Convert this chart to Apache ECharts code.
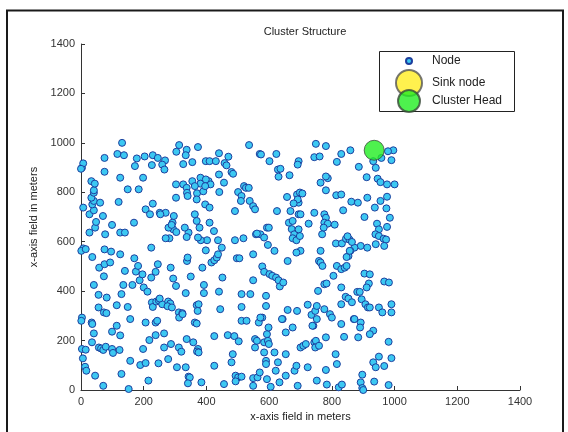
<!DOCTYPE html>
<html>
<head>
<meta charset="utf-8">
<script src="https://cdn.jsdelivr.net/npm/echarts@6/dist/echarts.min.js"></script>
<style>
  html, body { margin: 0; padding: 0; background: #fff; }
  #chart { width: 568px; height: 432px; }
</style>
</head>
<body>
<div id="chart"></div>
<script>
// node positions, [x, y] in meters
const nodes = [
  [131,1000],[313,991],[373,983],[536,991],[749,996],[781,987],[996,970],[979,966],[859,970],
  [3,899],[7,917],[0,895],[75,939],[116,955],[137,950],[178,937],[203,945],[229,950],[245,939],
  [268,929],[259,912],[266,892],[226,910],[172,906],[304,964],[337,972],[334,950],[326,914],
  [355,922],[398,926],[410,926],[430,926],[440,958],[470,944],[458,918],[464,909],[440,872],
  [480,882],[485,875],[570,955],[574,953],[601,926],[623,955],[628,892],[636,895],[630,863],
  [665,869],[694,926],[691,912],[744,942],[761,945],[816,923],[830,955],[886,903],[940,899],
  [958,939],[932,926],[990,930],[911,861],[946,855],[955,841],[976,832],[1000,832],[976,782],
  [955,765],[913,778],[904,700],[937,738],[974,735],[985,697],[976,660],[944,673],[950,650],
  [939,630],[950,623],[965,612],[973,609],[967,583],[940,590],[892,583],[913,576],[872,576],
  [7,573],[1,563],[15,570],[7,738],[27,711],[41,727],[36,751],[41,765],[61,758],[33,778],
  [41,798],[41,808],[33,845],[44,835],[45,657],[48,680],[70,704],[75,883],[36,538],[27,637],
  [77,630],[125,859],[149,812],[184,812],[198,859],[120,761],[169,677],[125,637],[140,637],
  [99,668],[229,754],[206,731],[220,711],[251,717],[270,717],[224,576],[282,614],[294,650],
  [292,677],[279,657],[303,778],[303,832],[326,832],[337,818],[355,845],[338,798],[340,785],
  [381,859],[381,835],[363,825],[370,796],[369,771],[390,804],[396,751],[410,738],[407,845],
  [413,832],[398,852],[396,825],[441,801],[456,839],[491,724],[501,801],[512,785],[510,765],
  [520,825],[526,818],[535,818],[538,765],[549,744],[555,731],[558,630],[572,630],[584,617],
  [593,657],[599,657],[596,587],[617,563],[625,724],[657,781],[668,724],[663,677],[675,684],
  [689,643],[694,711],[700,711],[689,791],[698,799],[706,795],[694,758],[691,771],[678,755],
  [672,651],[680,630],[675,614],[687,606],[698,623],[694,650],[700,563],[687,556],[726,673],
  [744,717],[776,711],[781,697],[776,677],[787,673],[774,657],[769,630],[787,857],[781,864],
  [764,839],[781,808],[814,788],[830,791],[836,727],[809,669],[813,593],[832,593],[845,612],
  [856,609],[864,599],[850,622],[862,762],[883,758],[859,563],[853,542],
  [58,495],[75,509],[93,516],[73,460],[41,425],[56,385],[82,374],[56,334],[73,314],[81,311],
  [114,343],[129,388],[135,425],[140,482],[125,549],[170,533],[175,479],[182,502],[187,444],
  [196,468],[200,415],[164,425],[149,336],[212,398],[224,455],[238,478],[245,509],[226,354],
  [229,336],[240,358],[248,363],[259,347],[278,358],[285,350],[276,339],[290,334],[251,370],
  [286,495],[294,451],[303,421],[312,314],[323,311],[313,293],[334,392],[338,522],[340,536],
  [350,459],[369,343],[375,347],[372,320],[363,273],[369,269],[392,425],[392,392],[398,565],
  [387,495],[416,516],[425,525],[433,536],[437,549],[440,398],[444,327],[451,455],[449,576],
  [437,606],[424,643],[410,677],[402,606],[382,606],[373,617],[378,657],[369,684],[363,711],
  [343,637],[337,619],[331,657],[296,704],[289,668],[304,639],[270,614],[253,711],[491,606],
  [497,533],[505,533],[518,614],[512,388],[512,336],[540,388],[549,444],[549,549],[561,633],
  [578,500],[584,478],[590,381],[601,469],[590,340],[578,293],[610,462],[622,455],[630,444],
  [634,419],[645,435],[659,522],[659,324],[643,287],[689,320],[723,345],[735,304],[741,260],
  [747,320],[752,340],[752,287],[756,401],[759,522],[764,516],[764,563],[770,502],[776,428],
  [783,431],[776,327],[794,307],[800,293],[781,213],[805,462],[816,502],[830,489],[841,495],
  [847,502],[847,538],[857,563],[830,415],[844,377],[830,347],[853,370],[864,355],[870,287],
  [881,397],[889,397],[895,367],[892,273],[907,347],[915,334],[921,334],[904,471],[921,468],
  [918,431],[911,415],[932,240],[921,226],[950,334],[961,314],[967,439],[982,435],[990,347],
  [990,314],[981,195],[990,129],[950,135],[932,112],[940,92],[967,97],[897,62],[935,34],
  [892,31],[897,8],[900,0],[981,20],
  [3,293],[1,280],[34,273],[36,267],[41,229],[35,193],[3,166],[15,163],[6,128],[13,94],
  [17,78],[45,58],[57,172],[64,168],[71,162],[79,175],[71,17],[99,166],[102,150],[99,236],
  [114,260],[123,162],[125,221],[129,65],[157,287],[157,118],[152,4],[189,101],[198,166],
  [206,109],[206,273],[215,38],[218,202],[238,222],[238,273],[243,280],[247,108],[265,229],
  [265,172],[278,125],[287,186],[306,92],[312,172],[320,155],[324,307],[337,206],[334,92],
  [343,54],[347,51],[341,27],[358,193],[373,166],[370,156],[375,152],[384,31],[425,98],
  [425,218],[456,24],[468,222],[480,112],[484,145],[489,218],[493,58],[501,51],[493,35],
  [503,197],[512,280],[528,280],[512,54],[549,48],[549,17],[555,172],[555,206],[561,199],
  [563,51],[570,71],[567,273],[572,293],[584,193],[584,152],[590,118],[590,105],[593,226],
  [598,253],[596,199],[599,186],[593,44],[605,13],[617,152],[621,78],[628,112],[633,31],
  [641,287],[653,58],[653,145],[653,233],[675,253],[681,78],[687,98],[691,17],[700,172],
  [709,179],[717,186],[723,92],[738,260],[744,193],[749,199],[747,172],[759,179],[752,38],
  [781,81],[784,22],[812,145],[816,105],[822,11],[830,267],[832,22],[839,215],[872,287],
  [884,213],[890,253],[75,569],[96,560]
];
const sinkNode = [];
const clusterHead = [[935, 970]];
const axisTicks = [0, 200, 400, 600, 800, 1000, 1200, 1400];

const chart = echarts.init(document.getElementById('chart'));
const font = 'Liberation Sans, Arial, sans-serif';

const axisCommon = {
  min: axisTicks[0],
  max: axisTicks[axisTicks.length - 1],
  interval: axisTicks[1] - axisTicks[0],
  nameLocation: 'middle',
  nameTextStyle: { fontFamily: font, fontSize: 11, color: '#222' },
  axisLine: { show: true, lineStyle: { color: '#333', width: 1 } },
  axisTick: { show: true, inside: true, length: 4, lineStyle: { color: '#333' } },
  axisLabel: { fontFamily: font, fontSize: 11, color: '#333', margin: 6, formatter: v => String(v) },
  splitLine: { show: false }
};

const legendCommon = {
  orient: 'vertical',
  padding: 0,
  selectedMode: false,
  icon: 'circle',
  textStyle: { fontFamily: font, fontSize: 12, color: '#222' }
};

chart.setOption({
  animation: false,
  backgroundColor: '#fff',
  title: {
    text: 'Cluster Structure',
    left: 300,
    top: 21,
    textAlign: 'center',
    textStyle: { fontFamily: font, fontSize: 11, fontWeight: 'normal', color: '#222' }
  },
  grid: { left: 81, right: 48, top: 44, bottom: 42 },
  xAxis: Object.assign({}, axisCommon, {
    type: 'value',
    name: 'x-axis field in meters',
    nameGap: 21
  }),
  yAxis: Object.assign({}, axisCommon, {
    type: 'value',
    name: 'x-axis field in meters',
    nameGap: 39
  }),
  legend: [
    Object.assign({}, legendCommon, {
      data: ['Node'], left: 405, top: 55, itemWidth: 6, itemHeight: 6,
      textStyle: Object.assign({}, legendCommon.textStyle, { padding: [0, 0, 0, 15] })
    }),
    Object.assign({}, legendCommon, {
      data: ['Sink node'], left: 395, top: 69, itemWidth: 26, itemHeight: 26,
      textStyle: Object.assign({}, legendCommon.textStyle, { padding: [0, 0, 0, 5] })
    }),
    Object.assign({}, legendCommon, {
      data: ['Cluster Head'], left: 397, top: 89, itemWidth: 22, itemHeight: 22,
      textStyle: Object.assign({}, legendCommon.textStyle, { padding: [0, 0, 0, 7] })
    })
  ],
  graphic: [
    {
      type: 'rect', z: -1,
      shape: { x: 379.5, y: 51.5, width: 135, height: 60 },
      style: { fill: '#fff', stroke: '#222', lineWidth: 1 }
    },
    {
      type: 'rect', z: -2,
      shape: { x: 7, y: 10.5, width: 556, height: 430 },
      style: { fill: 'none', stroke: '#1a1a1a', lineWidth: 2 }
    }
  ],
  series: [
    {
      name: 'Node',
      type: 'scatter',
      data: nodes,
      symbol: 'circle',
      symbolSize: 7,
      itemStyle: { color: '#3cc8f2', borderColor: '#1d3f9e', borderWidth: 1, opacity: 1 }
    },
    {
      name: 'Sink node',
      type: 'scatter',
      data: sinkNode,
      symbol: 'circle',
      symbolSize: 26,
      itemStyle: { color: '#ffee22', borderColor: '#555', borderWidth: 1 }
    },
    {
      name: 'Cluster Head',
      type: 'scatter',
      data: clusterHead,
      symbol: 'circle',
      symbolSize: 20,
      itemStyle: { color: '#22ee22', borderColor: '#3a4a3a', borderWidth: 1 }
    }
  ]
});
</script>
</body>
</html>
